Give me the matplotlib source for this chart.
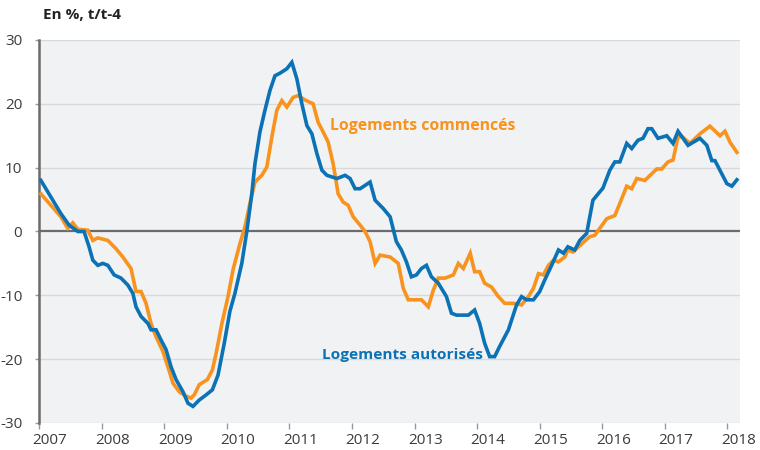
import matplotlib.pyplot as plt
import matplotlib.transforms as mtransforms

# Logements autorisés (dates in decimal years, values in %)
aut_dates = [2007.03, 2007.19, 2007.35, 2007.48, 2007.62, 2007.72, 2007.80, 2007.86, 2007.94,
             2008.02, 2008.10, 2008.20, 2008.31, 2008.42, 2008.50, 2008.55, 2008.63, 2008.74,
             2008.79, 2008.87, 2008.95, 2009.03, 2009.11, 2009.19, 2009.30, 2009.38, 2009.46,
             2009.56, 2009.67, 2009.77, 2009.86, 2009.96, 2010.05, 2010.13, 2010.24, 2010.32,
             2010.40, 2010.45, 2010.53, 2010.61, 2010.69, 2010.77, 2010.85, 2010.96, 2011.04,
             2011.12, 2011.20, 2011.28, 2011.36, 2011.44, 2011.52, 2011.60, 2011.76, 2011.89,
             2011.97, 2012.05, 2012.13, 2012.29, 2012.37, 2012.50, 2012.61, 2012.71, 2012.79,
             2012.87, 2012.95, 2013.03, 2013.11, 2013.19, 2013.27, 2013.38, 2013.51, 2013.59,
             2013.67, 2013.86, 2013.96, 2014.04, 2014.12, 2014.20, 2014.28, 2014.36, 2014.50,
             2014.63, 2014.71, 2014.79, 2014.90, 2015.00, 2015.08, 2015.19, 2015.30, 2015.38,
             2015.45, 2015.56, 2015.64, 2015.75, 2015.85, 2016.01, 2016.12, 2016.20, 2016.28,
             2016.39, 2016.47, 2016.57, 2016.65, 2016.73, 2016.79, 2016.89, 2017.03, 2017.13,
             2017.21, 2017.37, 2017.56, 2017.67, 2017.75, 2017.80, 2017.99, 2018.07, 2018.15]
aut_values = [8.0, 5.4, 2.8, 1.0, 0.0, 0.0, -2.4, -4.5, -5.3,
              -5.0, -5.3, -6.8, -7.3, -8.4, -9.7, -11.8, -13.3, -14.4,
              -15.4, -15.4, -17.0, -18.5, -21.2, -23.2, -25.1, -26.9, -27.4,
              -26.4, -25.6, -24.8, -22.5, -17.5, -12.5, -9.7, -5.0, 0.0,
              5.9, 10.6, 15.6, 19.0, 22.1, 24.4, 24.8, 25.5, 26.5,
              23.9, 20.0, 16.6, 15.3, 12.2, 9.6, 8.8, 8.3, 8.8,
              8.3, 6.7, 6.7, 7.75, 4.9, 3.6, 2.3, -1.6, -2.9,
              -4.75, -7.1, -6.8, -5.8, -5.3, -7.1, -8.1, -10.2, -12.8,
              -13.1, -13.1, -12.3, -14.4, -17.5, -19.6, -19.6, -18.0, -15.4,
              -11.5, -10.2, -10.7, -10.7, -9.4, -7.6, -5.3, -2.9, -3.4,
              -2.4, -2.9, -1.4, -0.3, 4.9, 6.8, 9.6, 10.9, 10.9,
              13.8, 13.0, 14.3, 14.6, 16.1, 16.1, 14.6, 15.0, 13.8,
              15.7, 13.5, 14.6, 13.5, 11.1, 11.1, 7.5, 7.1, 8.1]

# Logements commencés
com_dates = [2007.03, 2007.19, 2007.35, 2007.46, 2007.54, 2007.62, 2007.78, 2007.86, 2007.94,
             2008.10, 2008.23, 2008.34, 2008.47, 2008.55, 2008.63, 2008.71, 2008.79, 2008.87,
             2008.98, 2009.06, 2009.14, 2009.24, 2009.35, 2009.43, 2009.48, 2009.56, 2009.69,
             2009.77, 2009.83, 2009.92, 2010.02, 2010.10, 2010.21, 2010.29, 2010.37, 2010.45,
             2010.56, 2010.64, 2010.72, 2010.80, 2010.88, 2010.96, 2011.06, 2011.14, 2011.25,
             2011.38, 2011.46, 2011.54, 2011.62, 2011.70, 2011.78, 2011.86, 2011.94, 2012.02,
             2012.13, 2012.21, 2012.29, 2012.37, 2012.45, 2012.61, 2012.74, 2012.82, 2012.90,
             2013.11, 2013.22, 2013.30, 2013.38, 2013.49, 2013.62, 2013.70, 2013.78, 2013.89,
             2013.96, 2014.04, 2014.12, 2014.23, 2014.34, 2014.44, 2014.58, 2014.71, 2014.82,
             2014.90, 2014.98, 2015.06, 2015.14, 2015.22, 2015.30, 2015.40, 2015.45, 2015.53,
             2015.80, 2015.88, 2016.07, 2016.20, 2016.28, 2016.39, 2016.47, 2016.55, 2016.68,
             2016.87, 2016.95, 2017.05, 2017.13, 2017.21, 2017.27, 2017.40, 2017.56, 2017.72,
             2017.88, 2017.96, 2018.04, 2018.15]
com_values = [5.9, 4.1, 2.3, 0.5, 1.35, 0.35, 0.2, -1.4, -1.0,
              -1.4, -2.7, -4.0, -5.8, -9.4, -9.4, -11.25, -14.4, -16.5,
              -18.8, -21.2, -23.75, -25.1, -25.8, -26.1, -25.6, -24.0, -23.2,
              -21.7, -19.1, -14.5, -10.2, -6.0, -1.9, 0.7, 4.4, 7.75,
              8.8, 10.1, 14.8, 19.0, 20.5, 19.5, 21.0, 21.3, 20.6,
              20.0, 17.1, 15.6, 14.0, 10.6, 5.9, 4.6, 4.1, 2.3,
              1.0, 0.0, -1.6, -5.0, -3.7, -4.0, -5.0, -8.9, -10.7,
              -10.7, -11.8, -9.2, -7.3, -7.3, -6.8, -5.0, -5.8, -3.4,
              -6.3, -6.3, -8.1, -8.7, -10.2, -11.25, -11.25, -11.5, -10.2,
              -8.9, -6.6, -6.8, -5.3, -4.5, -4.75, -4.0, -2.9, -3.2,
              -0.8, -0.6, 2.0, 2.5, 4.4, 7.1, 6.7, 8.3, 8.0,
              9.8, 9.8, 10.9, 11.2, 14.8, 14.9, 13.8, 15.3, 16.5,
              15.0, 15.7, 14.0, 12.4]

years = list(range(2007, 2019))
yticks = [-30, -20, -10, 0, 10, 20, 30]

blue = "#0a72b5"
orange = "#f7931e"
text_col = "#3c3c3c"

plt.rcParams["font.family"] = ["Open Sans", "DejaVu Sans"]

fig = plt.figure(figsize=(7.6, 4.5), dpi=100)
ax = fig.add_axes([39 / 760, 1 - 423 / 450, 701 / 760, 383 / 450])
ax.set_facecolor("#f1f2f4")

ax.set_xlim(2007, 2018.2)
ax.set_ylim(-30, 30)

for v in yticks:
    if v != 0:
        ax.axhline(v, color="#d8d9dc", lw=1, zorder=1)
ax.axhline(0, color="#6b6b6b", lw=1.6, zorder=2)

ax.plot(com_dates, com_values, color=orange, lw=2.6, zorder=3, solid_joinstyle="miter")
ax.plot(aut_dates, aut_values, color=blue, lw=2.6, zorder=4, solid_joinstyle="miter")

ax.text(2011.65, 16.6, "Logements commencés", color=orange, fontsize=11.3,
        fontweight="bold", va="center", ha="left")
ax.text(2011.52, -19.3, "Logements autorisés", color=blue, fontsize=11.1,
        fontweight="bold", va="center", ha="left")

for side in ["top", "right", "bottom"]:
    ax.spines[side].set_visible(False)
ax.spines["left"].set_color("#6b6b6b")
ax.spines["left"].set_linewidth(1.8)

ax.set_yticks(yticks)
ax.set_yticklabels([str(v) for v in yticks])
ax.set_xticks(years)
ax.set_xticklabels([str(y) for y in years])
ax.tick_params(axis="y", length=3, width=1, color="#9a9a9a", pad=9,
               labelsize=11, labelcolor=text_col)
ax.tick_params(axis="x", length=4, width=1, color="#9a9a9a", pad=3,
               labelsize=11, labelcolor=text_col)

# shift the year labels a bit to the right of their tick marks
offset = mtransforms.ScaledTranslation(11 / 100, 0, fig.dpi_scale_trans)
for lab in ax.get_xticklabels():
    lab.set_transform(lab.get_transform() + offset)

fig.text(43 / 760, 1 - 15 / 450, "En %, t/t-4", fontsize=11, fontweight="bold",
         color="#222222", va="center", ha="left")

fig.savefig("out.png", dpi=100)
